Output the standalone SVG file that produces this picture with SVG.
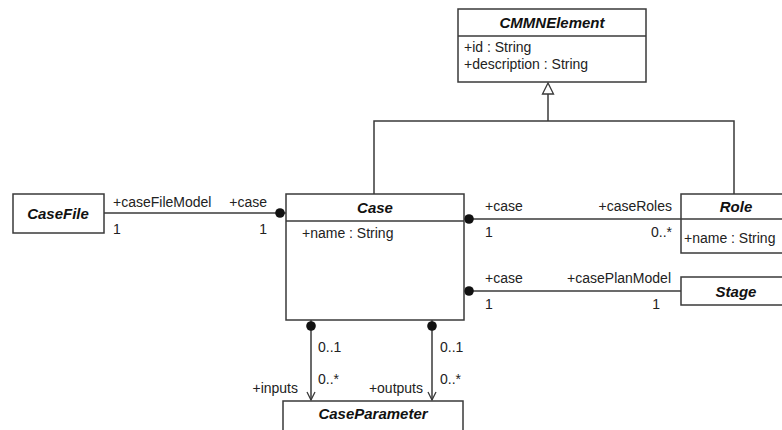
<svg xmlns="http://www.w3.org/2000/svg" width="782" height="430" viewBox="0 0 782 430">
<defs>
<style>
.box{fill:#fff;stroke:#3a3a3a;stroke-width:1.5}
.ln{fill:none;stroke:#3a3a3a;stroke-width:1.5}
.t{font-family:"Liberation Sans",Arial,sans-serif;font-size:14px;fill:#222}
.h{font-family:"Liberation Sans",Arial,sans-serif;font-size:15px;font-weight:bold;font-style:italic;fill:#111;text-anchor:middle}
.dot{fill:#111}
</style>
<marker id="arr" markerWidth="12" markerHeight="12" refX="6" refY="11" orient="0" markerUnits="userSpaceOnUse">
<path d="M2,3 L6,11 L10,3" fill="none" stroke="#3a3a3a" stroke-width="1.3"/>
</marker>
</defs>
<rect width="782" height="430" fill="#fff"/>
<g id="connectors">
<polyline class="ln" points="374,194 374,121 734,121 734,194"/>
<line class="ln" x1="548" y1="121" x2="548" y2="94"/>
<polygon points="548,83 542.5,94 553.5,94" fill="#fff" stroke="#3a3a3a" stroke-width="1.3"/>
<line class="ln" x1="104" y1="213" x2="286" y2="213"/>
<circle class="dot" cx="280" cy="213" r="4.8"/>
<line class="ln" x1="464" y1="219" x2="681" y2="219"/>
<circle class="dot" cx="469" cy="219" r="4.8"/>
<line class="ln" x1="464" y1="291" x2="681" y2="291"/>
<circle class="dot" cx="469" cy="291" r="4.8"/>
<line class="ln" x1="311" y1="320" x2="311" y2="400" marker-end="url(#arr)"/>
<circle class="dot" cx="311" cy="326" r="4.8"/>
<line class="ln" x1="432" y1="320" x2="432" y2="400" marker-end="url(#arr)"/>
<circle class="dot" cx="432" cy="326" r="4.8"/>
<text class="t" x="113" y="207">+caseFileModel</text>
<text class="t" x="267" y="207" text-anchor="end">+case</text>
<text class="t" x="113" y="234">1</text>
<text class="t" x="267" y="234" text-anchor="end">1</text>
<text class="t" x="485" y="211">+case</text>
<text class="t" x="672" y="211" text-anchor="end">+caseRoles</text>
<text class="t" x="485" y="237">1</text>
<text class="t" x="672" y="237" text-anchor="end">0..*</text>
<text class="t" x="485" y="283">+case</text>
<text class="t" x="671" y="283" text-anchor="end">+casePlanModel</text>
<text class="t" x="485" y="309">1</text>
<text class="t" x="660" y="309" text-anchor="end">1</text>
<text class="t" x="318" y="352">0..1</text>
<text class="t" x="318" y="384">0..*</text>
<text class="t" x="298" y="393" text-anchor="end">+inputs</text>
<text class="t" x="440" y="352">0..1</text>
<text class="t" x="440" y="384">0..*</text>
<text class="t" x="423" y="393" text-anchor="end">+outputs</text>
</g>
<g id="CMMNElement">
<rect class="box" x="458" y="9" width="188" height="73"/>
<line class="ln" x1="458" y1="36" x2="646" y2="36"/>
<text class="h" x="552" y="28">CMMNElement</text>
<text class="t" x="464" y="52">+id : String</text>
<text class="t" x="464" y="69">+description : String</text>
</g>
<g id="CaseFile">
<rect class="box" x="13" y="194" width="91" height="39"/>
<text class="h" x="58" y="219">CaseFile</text>
</g>
<g id="Case">
<rect class="box" x="286" y="194" width="178" height="126"/>
<line class="ln" x1="286" y1="221" x2="464" y2="221"/>
<text class="h" x="375" y="213">Case</text>
<text class="t" x="302" y="238">+name : String</text>
</g>
<g id="Role">
<rect class="box" x="681" y="194" width="110" height="59"/>
<line class="ln" x1="681" y1="219" x2="791" y2="219"/>
<text class="h" x="736" y="212">Role</text>
<text class="t" x="684" y="243">+name : String</text>
</g>
<g id="Stage">
<rect class="box" x="681" y="277" width="110" height="28"/>
<text class="h" x="736" y="297">Stage</text>
</g>
<g id="CaseParameter">
<rect class="box" x="283" y="401" width="180" height="40"/>
<text class="h" x="373" y="419">CaseParameter</text>
</g>
</svg>
